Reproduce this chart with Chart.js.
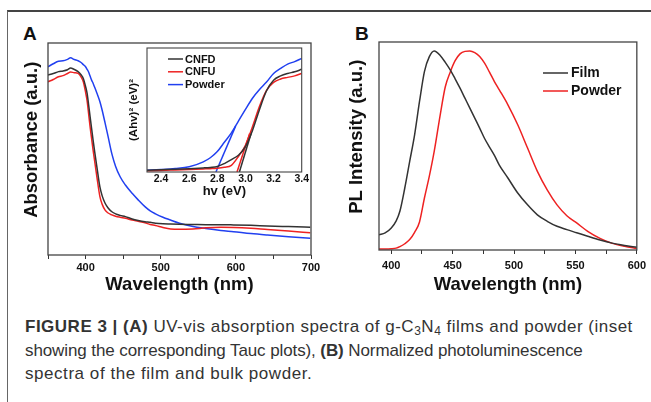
<!DOCTYPE html>
<html>
<head>
<meta charset="utf-8">
<script src="https://cdn.jsdelivr.net/npm/chart.js@4.4.1/dist/chart.umd.min.js"></script>
<style>
  body { margin: 0; background: #fff; width: 651px; height: 402px; overflow: hidden; position: relative; font-family: "Liberation Sans", Arial, sans-serif; }
  canvas { position: absolute; }
  .frame { position: absolute; left: 7px; top: 10px; width: 680px; height: 420px; border-left: 1.5px solid #666; border-top: 2px solid #444; }
  .panel { position: absolute; font-weight: bold; font-size: 19px; line-height: 19px; color: #111; }
  .caption { position: absolute; left: 25px; top: 315px; font-size: 17px; line-height: 23.5px; color: #333; white-space: nowrap; }
  .caption sub { font-size: 12px; line-height: 0; vertical-align: -3px; }
</style>
</head>
<body>
<div class="frame"></div>
<div class="panel" style="left:23px; top:24px;">A</div>
<div class="panel" style="left:355px; top:24px;">B</div>
<canvas id="absChart" width="325" height="300" style="left:0; top:0;"></canvas>
<canvas id="taucChart" width="210" height="165" style="left:100px; top:40px;"></canvas>
<canvas id="plChart" width="321" height="300" style="left:330px; top:0;"></canvas>
<div class="caption"><span style="letter-spacing:0.5px"><b>FIGURE 3 | (A)</b> UV-vis absorption spectra of g-C<sub>3</sub>N<sub>4</sub> films and powder (inset</span><br><span style="letter-spacing:-0.1px">showing the corresponding Tauc plots), <b>(B)</b> Normalized photoluminescence</span><br><span style="letter-spacing:0.55px">spectra of the film and bulk powder.</span></div>

<script>
// Panel A: UV-vis absorbance (a.u.)
const absNm = [350, 357, 364, 370, 376, 380, 385, 390, 394, 397, 400, 402, 404, 406, 408, 410, 412, 415, 419, 422,
  426, 430, 435, 440, 446, 453, 462, 470, 479, 486, 493, 503, 513, 525, 543, 560, 580, 597, 620, 642, 670, 699];
const cnfdAbs = [84.9, 85.6, 86.5, 86.8, 87.4, 88.2, 87.5, 86.5, 85.0, 83.3, 79.5, 76.3, 71.0, 65.3, 59.8, 54.2, 49.0, 41.7, 32.2, 28.0,
  24.4, 22.2, 20.4, 19.4, 18.7, 18.1, 17.0, 16.3, 15.7, 15.4, 15.0, 14.7, 14.6, 14.5, 14.4, 14.3, 14.3, 14.2, 14.0, 13.7, 13.4, 13.1];
const cnfuAbs = [81.7, 82.8, 84.1, 84.6, 85.6, 86.3, 86.0, 85.7, 84.0, 81.7, 76.8, 72.8, 66.8, 60.5, 55.0, 49.5, 44.5, 37.0, 27.7, 24.0,
  21.2, 19.8, 18.9, 18.3, 17.8, 17.3, 16.5, 15.9, 15.2, 14.4, 13.9, 13.0, 12.3, 12.1, 12.3, 12.8, 13.1, 13.0, 12.6, 12.0, 11.3, 10.5];
const powderAbs = [88.8, 90.2, 91.4, 91.6, 92.3, 93.0, 92.2, 91.6, 90.8, 89.8, 88.8, 87.6, 86.3, 84.4, 82.5, 81.0, 79.2, 76.4, 72.4, 68.4,
  62.2, 55.8, 47.7, 41.8, 36.9, 33.0, 29.1, 26.0, 22.8, 20.8, 19.4, 17.8, 16.5, 15.0, 13.4, 12.5, 11.6, 11.0, 10.1, 9.4, 8.6, 7.9];
const absTicks = [350, 400, 450, 500, 550, 600, 650, 700];
const absLabels = [400, 500, 600, 700];

// Inset: Tauc plot (Ahv)^2 vs hv
const taucEv = [2.3, 2.4, 2.5, 2.6, 2.7, 2.75, 2.8, 2.85, 2.9, 2.95, 3.0, 3.05, 3.1, 3.15, 3.2, 3.25, 3.3, 3.35, 3.4];
const cnfdTauc = [1.4, 1.8, 2.2, 2.7, 3.3, 3.7, 4.4, 6.8, 10.0, 13.5, 20.5, 33.5, 50.5, 65.5, 74.0, 77.5, 79.5, 80.8, 82.8];
const cnfuTauc = [1.0, 1.3, 1.7, 2.1, 2.5, 2.7, 3.0, 3.8, 5.4, 12.5, 21.6, 36.5, 53.0, 65.8, 72.3, 75.0, 76.3, 77.5, 79.5];
const powderTauc = [1.4, 2.0, 2.8, 4.2, 8.2, 11.5, 16.5, 24.0, 31.5, 41.0, 50.5, 59.5, 66.5, 72.5, 79.5, 83.5, 87.0, 89.0, 91.6];
const cnfdFitEv = [2.957, 3.04], cnfdFit = [0, 31];
const cnfuFitEv = [2.94, 3.03], cnfuFit = [0, 31];
const powderFitEv = [2.79, 2.93], powderFit = [0, 37];
const taucTicks = [2.3, 2.4, 2.5, 2.6, 2.7, 2.8, 2.9, 3.0, 3.1, 3.2, 3.3, 3.4];
const taucLabels = [2.4, 2.6, 2.8, 3.0, 3.2, 3.4];

// Panel B: normalized PL intensity
const plNm = [390, 395, 400, 404, 407, 411, 415, 419, 423, 427, 431, 435, 440, 444, 448, 452, 456, 460, 464, 468,
  472, 476, 480, 484, 488, 495, 503, 511, 519, 527, 535, 543, 551, 560, 570, 580, 590, 600];
const filmPl = [7.3, 8.2, 10.6, 14.0, 18.6, 29.8, 42.6, 55.4, 71.4, 85.8, 93.0, 95.7, 93.4, 90.2, 86.6, 82.3, 77.8, 73.0, 68.2, 63.4,
  58.6, 53.6, 49.5, 45.5, 40.8, 34.6, 27.4, 21.7, 16.9, 13.8, 11.4, 9.8, 8.3, 6.6, 4.8, 3.3, 2.2, 1.3];
const powderPl = [0.5, 0.5, 0.6, 0.9, 1.6, 3.0, 5.0, 8.5, 13.5, 25.0, 35.5, 47.5, 65.5, 78.5, 85.5, 91.0, 94.3, 95.5, 95.7, 94.9,
  93.0, 89.8, 85.5, 81.0, 77.0, 69.8, 60.2, 49.0, 37.8, 28.9, 21.7, 16.5, 13.0, 9.0, 5.6, 3.2, 1.8, 0.8];
const plTicks = [400, 425, 450, 475, 500, 525, 550, 575, 600];
const plLabels = [400, 450, 500, 550, 600];

const BLACK = '#333333', RED = '#ee2222', BLUE = '#2140f0';

Chart.defaults.font.family = '"Liberation Sans", Arial, sans-serif';
Chart.defaults.color = '#111';

function pts(xs, ys) {
  return xs.map((x, i) => ({ x: x, y: ys[i] }));
}

// box round the plot area, optional white fill (for the inset)
const framePlugin = {
  id: 'frame',
  beforeDraw(chart, args, opts) {
    if (!opts.fill) return;
    const a = chart.chartArea;
    chart.ctx.save();
    chart.ctx.fillStyle = opts.fill;
    chart.ctx.fillRect(a.left, a.top, a.width, a.height);
    chart.ctx.restore();
  },
  afterDraw(chart, args, opts) {
    const a = chart.chartArea, ctx = chart.ctx;
    ctx.save();
    ctx.strokeStyle = '#444';
    ctx.lineWidth = opts.width || 1.3;
    ctx.strokeRect(a.left, a.top, a.width, a.height);
    ctx.restore();
  }
};

// short line + label legend drawn inside the plot
const lineLegend = {
  id: 'lineLegend',
  afterDraw(chart, args, opts) {
    if (opts.x === undefined) return;
    const ctx = chart.ctx;
    ctx.save();
    ctx.font = 'bold ' + opts.size + 'px "Liberation Sans", Arial, sans-serif';
    ctx.textBaseline = 'middle';
    ctx.fillStyle = '#111';
    chart.data.datasets.filter(d => !d.fit).forEach((d, i) => {
      const y = opts.y + i * opts.row;
      ctx.strokeStyle = d.borderColor;
      ctx.lineWidth = 1.5;
      ctx.beginPath();
      ctx.moveTo(opts.x, y);
      ctx.lineTo(opts.x + opts.len, y);
      ctx.stroke();
      ctx.fillText(d.label, opts.x + opts.len + opts.gap, y + 0.5);
    });
    ctx.restore();
  }
};

Chart.register(framePlugin, lineLegend);

function xAxis(c) {
  return {
    type: 'linear', min: c.min, max: c.max,
    afterBuildTicks: s => { s.ticks = c.ticks.map(v => ({ value: v })); },
    afterFit: s => { s.height = c.height; },
    grid: { display: true, drawOnChartArea: false, drawTicks: c.tickLen > 0, tickLength: c.tickLen, color: '#333', lineWidth: 1 },
    border: { display: false },
    ticks: {
      autoSkip: false, maxRotation: 0, padding: c.pad, color: '#111',
      font: { size: c.size, weight: 'bold' },
      callback: v => c.labels.some(l => Math.abs(l - v) < 1e-6) ? c.fmt(v) : ''
    },
    title: { display: true, text: c.title, color: '#111', font: { size: c.titleSize, weight: 'bold' }, padding: { top: 0, bottom: c.titlePad } }
  };
}

function yAxis(c) {
  return {
    min: 0, max: 100,
    afterFit: s => { s.width = c.width; },
    ticks: { display: false },
    grid: { display: false },
    border: { display: false },
    title: { display: true, text: c.title, color: '#111', font: { size: c.titleSize, weight: 'bold' }, padding: { top: c.titlePad, bottom: 0 } }
  };
}

function line(label, data, color, extra) {
  return Object.assign({
    label: label, data: data, borderColor: color, borderWidth: 1.5,
    pointRadius: 0, fill: false, cubicInterpolationMode: 'monotone'
  }, extra || {});
}

const common = {
  responsive: false, animation: false, events: [],
  plugins: { legend: { display: false }, tooltip: { enabled: false } }
};

// Panel A (leading en spaces nudge the rotated title up, as in the figure)
new Chart(document.getElementById('absChart'), {
  type: 'line',
  data: {
    datasets: [
      line('CNFD', pts(absNm, cnfdAbs), BLACK),
      line('CNFU', pts(absNm, cnfuAbs), RED),
      line('Powder', pts(absNm, powderAbs), BLUE)
    ]
  },
  options: Object.assign({}, common, {
    layout: { padding: { top: 43, right: 14, left: 0, bottom: 0 } },
    scales: {
      x: xAxis({ min: 350, max: 700, ticks: absTicks, labels: absLabels, fmt: v => String(v), height: 45, tickLen: 4, pad: 2, size: 11,
        title: 'Wavelength (nm)', titleSize: 18.5, titlePad: 4 }),
      y: yAxis({ width: 48, title: '\u2002\u2002Absorbance (a.u.)', titleSize: 18.5, titlePad: 21 })
    },
    plugins: Object.assign({}, common.plugins, { frame: {} })
  })
});

// Inset: Tauc plot
new Chart(document.getElementById('taucChart'), {
  type: 'line',
  data: {
    datasets: [
      line('CNFD', pts(taucEv, cnfdTauc), BLACK),
      line('CNFU', pts(taucEv, cnfuTauc), RED),
      line('Powder', pts(taucEv, powderTauc), BLUE),
      line('', pts(cnfdFitEv, cnfdFit), BLACK, { fit: true, tension: 0, cubicInterpolationMode: 'default' }),
      line('', pts(cnfuFitEv, cnfuFit), RED, { fit: true, tension: 0, cubicInterpolationMode: 'default' }),
      line('', pts(powderFitEv, powderFit), BLUE, { fit: true, tension: 0, cubicInterpolationMode: 'default' })
    ]
  },
  options: Object.assign({}, common, {
    layout: { padding: { top: 8, right: 7, left: 0, bottom: 0 } },
    scales: {
      x: xAxis({ min: 2.3, max: 3.4, ticks: taucTicks, labels: taucLabels, fmt: v => v.toFixed(1), height: 33, tickLen: 0, pad: 1, size: 10.5,
        title: 'hv (eV)', titleSize: 13, titlePad: 6 }),
      y: yAxis({ width: 47, title: '(Ahv)\u00b2 (eV)\u00b2', titleSize: 11.5, titlePad: 27 })
    },
    plugins: Object.assign({}, common.plugins, {
      frame: { fill: '#fff', width: 1.1 },
      lineLegend: { x: 68, y: 19, len: 15, gap: 2, row: 12.8, size: 11 }
    })
  })
});

// Panel B
new Chart(document.getElementById('plChart'), {
  type: 'line',
  data: {
    datasets: [
      line('Film', pts(plNm, filmPl), BLACK),
      line('Powder', pts(plNm, powderPl), RED)
    ]
  },
  options: Object.assign({}, common, {
    layout: { padding: { top: 42, right: 10, left: 0, bottom: 0 } },
    scales: {
      x: xAxis({ min: 390, max: 600, ticks: plTicks, labels: plLabels, fmt: v => String(v), height: 50, tickLen: 4, pad: 5, size: 11,
        title: 'Wavelength (nm)', titleSize: 18.5, titlePad: 4 }),
      y: yAxis({ width: 49, title: '\u2002\u2002PL Intensity (a.u.)', titleSize: 18.5, titlePad: 16 })
    },
    plugins: Object.assign({}, common.plugins, {
      frame: {},
      lineLegend: { x: 213, y: 73, len: 25, gap: 3, row: 18, size: 14 }
    })
  })
});
</script>
</body>
</html>
